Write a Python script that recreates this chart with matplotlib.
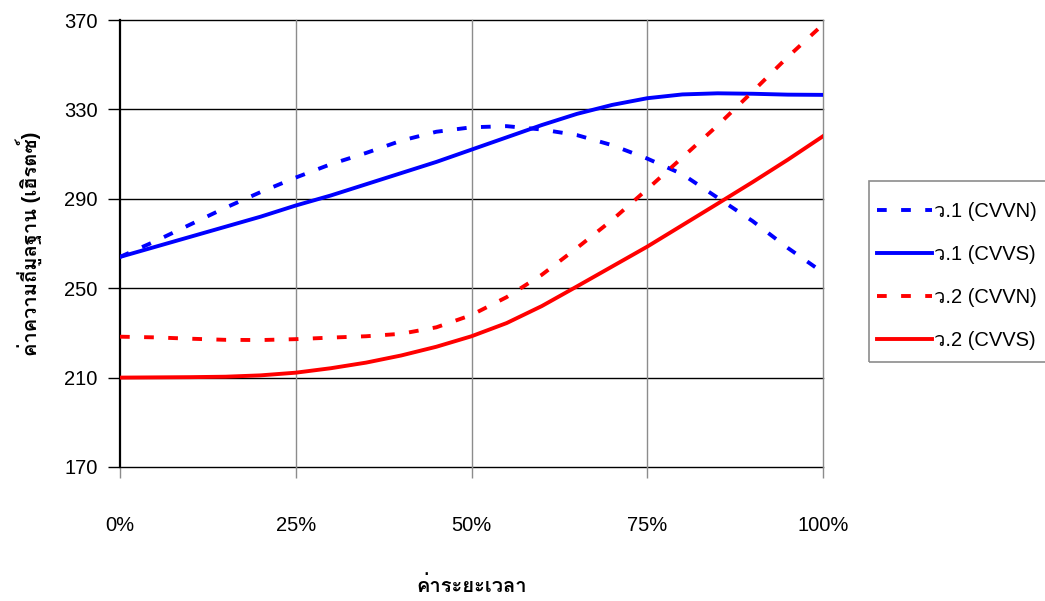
import matplotlib
matplotlib.use("Agg")
import matplotlib.pyplot as plt
from matplotlib import font_manager as fm
from matplotlib.ft2font import FT2Font
from matplotlib.ticker import FuncFormatter, FixedLocator
from matplotlib.patches import Rectangle

# ---- data ----
x_pct = [0, 5, 10, 15, 20, 25, 30, 35, 40, 45, 50, 55, 60, 65, 70, 75, 80, 85, 90, 95, 100]
v1_cvvn = [264, 271, 278.5, 286, 293, 299.5, 305.5, 310.5, 316, 320, 322, 322.5, 321,
           318.5, 314, 308, 301, 290.5, 280, 268, 257]
v1_cvvs = [264, 268.5, 273, 277.5, 282, 287, 291.5, 296.5, 301.5, 306.5, 312, 317.5, 323,
           328, 332, 335, 336.7, 337.2, 337, 336.6, 336.5]
v2_cvvn = [228.3, 228, 227.4, 226.9, 226.8, 227.2, 227.9, 228.5, 229.6, 232.5, 238, 246, 256,
           268, 280.5, 294.3, 308.5, 322.8, 338, 353.5, 368]
v2_cvvs = [210, 210.1, 210.2, 210.4, 211, 212.2, 214.2, 216.7, 219.9, 223.8, 228.5, 234.4, 242,
           250.8, 259.7, 268.6, 278.2, 287.8, 297.5, 307.5, 318]
series_labels = ["ว.1 (CVVN)", "ว.1 (CVVS)", "ว.2 (CVVN)", "ว.2 (CVVS)"]
x_ticks = [0, 25, 50, 75, 100]
y_ticks = [170, 210, 250, 290, 330, 370]
x_title = "ค่าระยะเวลา"
y_title = "ค่าความถี่มูลฐาน (เฮิรตซ์)"

# ---- find a font with Thai glyphs ----
thai_family = None
for f in fm.fontManager.ttflist:
    try:
        if 0x0E04 in FT2Font(f.fname).get_charmap():
            thai_family = f.name
            break
    except Exception:
        pass
fams = ["Liberation Sans"] + ([thai_family] if thai_family else []) + ["DejaVu Sans"]
plt.rcParams["font.family"] = fams

W, H = 1045, 601
fig = plt.figure(figsize=(W / 100, H / 100), dpi=100)
L, R, T, B = 120, 823, 20, 467
ax = fig.add_axes([L / W, (H - B) / H, (R - L) / W, (B - T) / H])

fs = 14.5
lw = 2.8
dash = (2.5, 3.7)
ax.plot(x_pct, v1_cvvn, color="#0000FF", lw=lw, dashes=dash, label=series_labels[0], zorder=3)
ax.plot(x_pct, v1_cvvs, color="#0000FF", lw=lw, label=series_labels[1], zorder=3)
ax.plot(x_pct, v2_cvvn, color="#FF0000", lw=lw, dashes=dash, label=series_labels[2], zorder=3)
ax.plot(x_pct, v2_cvvs, color="#FF0000", lw=lw, label=series_labels[3], zorder=3)

ax.set_xlim(0, 100)
ax.set_ylim(170, 370)
ax.xaxis.set_major_locator(FixedLocator(x_ticks))
ax.yaxis.set_major_locator(FixedLocator(y_ticks))
ax.xaxis.set_major_formatter(FuncFormatter(lambda v, p: f"{int(v)}%"))

for y in y_ticks:
    ax.axhline(y, color="black", lw=1.0, zorder=1, clip_on=False)
for x in x_ticks[1:]:
    ax.axvline(x, color="#8c8c8c", lw=1.0, zorder=1, clip_on=False)

for s in ["top", "right", "bottom"]:
    ax.spines[s].set_visible(False)
ax.spines["left"].set_linewidth(1.6)
ax.spines["left"].set_color("black")

ax.tick_params(axis="y", direction="out", length=9, width=1.0, color="black",
               labelsize=fs, pad=7)
ax.tick_params(axis="x", direction="out", length=8, width=1.0, color="#8c8c8c",
               labelsize=fs, pad=27)

ax.set_xlabel(x_title, fontsize=fs, fontweight="bold", labelpad=30)
ax.set_ylabel(y_title, fontsize=fs, fontweight="bold", labelpad=16)

# legend
fig.patches.append(Rectangle((869 / W, (H - 362) / H), 300 / W, 181 / H,
                             transform=fig.transFigure, fill=False,
                             edgecolor="#8c8c8c", lw=1.2))
leg = fig.legend(loc="upper left", bbox_to_anchor=(877 / W, (H - 202) / H),
                 frameon=False, fontsize=fs, handlelength=2.75, handletextpad=0.1,
                 labelspacing=1.2, borderpad=0, borderaxespad=0)

fig.savefig("out.png", dpi=100)
